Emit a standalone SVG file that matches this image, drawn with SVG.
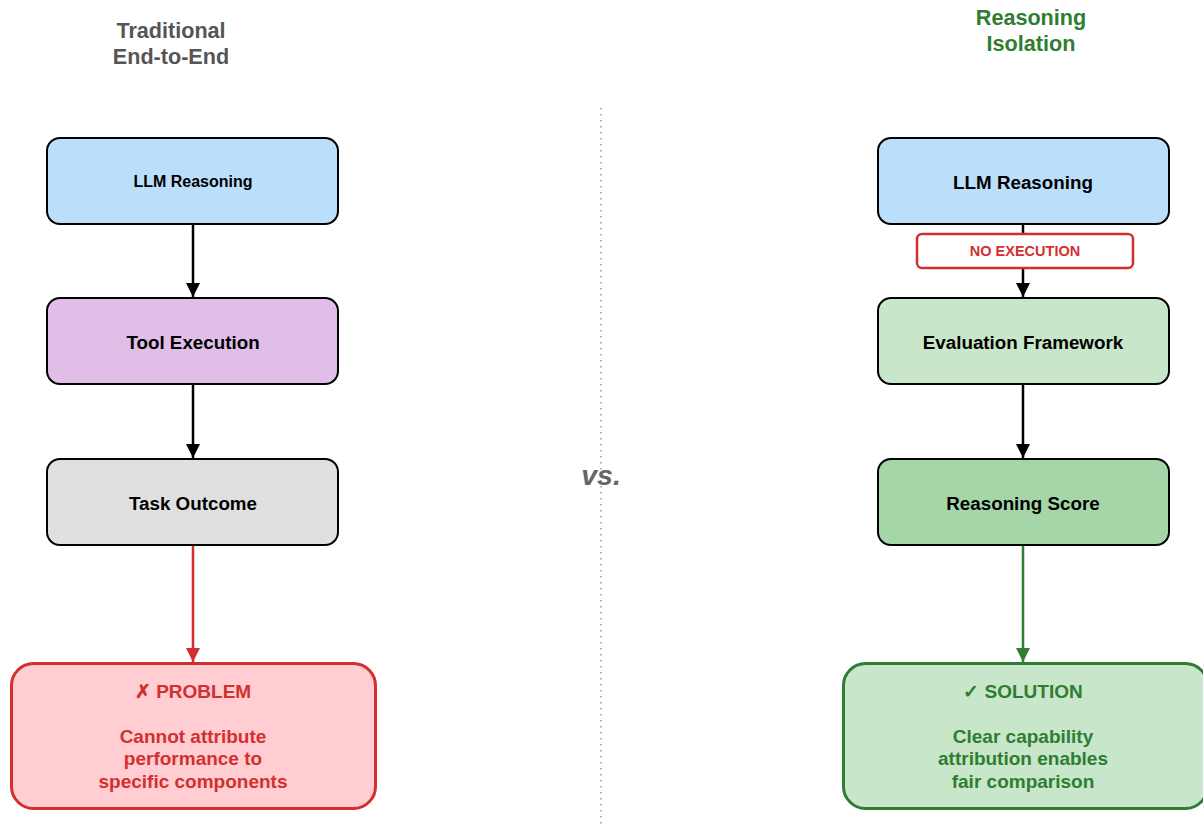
<svg xmlns="http://www.w3.org/2000/svg" width="1203" height="825" viewBox="0 0 1203 825">
<defs>
<style>
text{font-family:"Liberation Sans",Arial,sans-serif;font-weight:bold;text-anchor:middle;dominant-baseline:central}
.box{stroke:#000;stroke-width:2}
.lbl{font-size:18.8px;fill:#000}
.title{font-size:21.6px}
.big{font-size:19px}
</style>
<marker id="ab" viewBox="0 0 10 10" refX="10" refY="5" markerWidth="5.6" markerHeight="5.6" markerUnits="strokeWidth" orient="auto"><path d="M0,0L10,5L0,10z" fill="#000"/></marker>
<marker id="ar" viewBox="0 0 10 10" refX="10" refY="5" markerWidth="5.6" markerHeight="5.6" markerUnits="strokeWidth" orient="auto"><path d="M0,0L10,5L0,10z" fill="#d32f2f"/></marker>
<marker id="ag" viewBox="0 0 10 10" refX="10" refY="5" markerWidth="5.6" markerHeight="5.6" markerUnits="strokeWidth" orient="auto"><path d="M0,0L10,5L0,10z" fill="#2e7d32"/></marker>
</defs>
<rect width="1203" height="825" fill="#fff"/>
<g id="titles">
<text class="title" x="171" y="30" fill="#555">Traditional</text>
<text class="title" x="171" y="56" fill="#555">End-to-End</text>
<text class="title" x="1031" y="17" fill="#2e7d32">Reasoning</text>
<text class="title" x="1031" y="43" fill="#2e7d32">Isolation</text>
</g>
<g id="divider">
<line x1="601" y1="108" x2="601" y2="825" stroke="#999" stroke-width="1.5" stroke-dasharray="1.5,4.5"/>
<text x="601" y="475" font-size="28.5" font-style="italic" fill="#666">vs.</text>
</g>
<g id="connectors" fill="none" stroke-width="2.5">
<line x1="193" y1="224" x2="193" y2="297" stroke="#000" marker-end="url(#ab)"/>
<line x1="193" y1="384" x2="193" y2="458" stroke="#000" marker-end="url(#ab)"/>
<line x1="193" y1="545" x2="193" y2="662" stroke="#d32f2f" marker-end="url(#ar)"/>
<line x1="1023" y1="224" x2="1023" y2="297" stroke="#000" marker-end="url(#ab)"/>
<line x1="1023" y1="384" x2="1023" y2="458" stroke="#000" marker-end="url(#ab)"/>
<line x1="1023" y1="545" x2="1023" y2="662" stroke="#2e7d32" marker-end="url(#ag)"/>
</g>
<g id="l-llm"><rect class="box" x="47" y="138" width="291" height="86" rx="13" fill="#bbdefb"/><text x="193" y="181" font-size="16" fill="#000">LLM Reasoning</text></g>
<g id="l-tool"><rect class="box" x="47" y="298" width="291" height="86" rx="13" fill="#e1bee7"/><text class="lbl" x="193" y="342">Tool Execution</text></g>
<g id="l-task"><rect class="box" x="47" y="459" width="291" height="86" rx="13" fill="#e0e0e0"/><text class="lbl" x="193" y="503">Task Outcome</text></g>
<g id="l-problem" fill="#d32f2f"><rect x="11.5" y="663.5" width="364" height="145" rx="22" fill="#ffcdd2" stroke="#d32f2f" stroke-width="3"/>
<text class="big" x="193" y="691">✗ PROBLEM</text>
<text class="big" x="193" y="736">Cannot attribute</text>
<text class="big" x="193" y="758">performance to</text>
<text class="big" x="193" y="781">specific components</text></g>
<g id="r-llm"><rect class="box" x="878" y="138" width="291" height="86" rx="13" fill="#bbdefb"/><text class="lbl" x="1023" y="182">LLM Reasoning</text></g>
<g id="r-noexec"><rect x="917" y="234" width="216" height="34" rx="5" fill="#fff" stroke="#d32f2f" stroke-width="2.5"/><text x="1025" y="251" font-size="14.5" fill="#d32f2f">NO EXECUTION</text></g>
<g id="r-eval"><rect class="box" x="878" y="298" width="291" height="86" rx="13" fill="#c8e6c9"/><text class="lbl" x="1023" y="342">Evaluation Framework</text></g>
<g id="r-score"><rect class="box" x="878" y="459" width="291" height="86" rx="13" fill="#a5d6a7"/><text class="lbl" x="1023" y="503">Reasoning Score</text></g>
<g id="r-solution" fill="#2e7d32"><rect x="843.5" y="663.5" width="364" height="145" rx="22" fill="#c8e6c9" stroke="#2e7d32" stroke-width="3"/>
<text class="big" x="1023" y="691">✓ SOLUTION</text>
<text class="big" x="1023" y="736">Clear capability</text>
<text class="big" x="1023" y="758">attribution enables</text>
<text class="big" x="1023" y="781">fair comparison</text></g>
</svg>
